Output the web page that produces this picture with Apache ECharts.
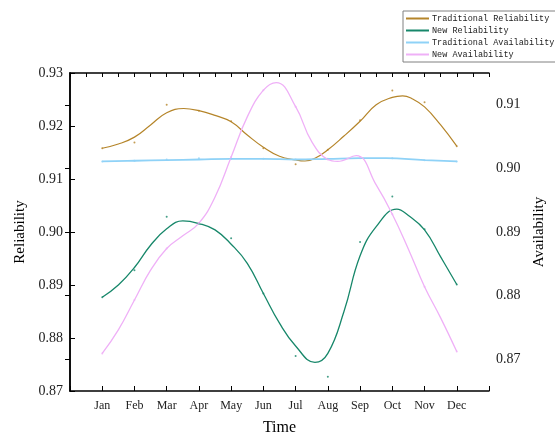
<!DOCTYPE html>
<html>
<head>
<meta charset="utf-8">
<script src="https://cdn.jsdelivr.net/npm/echarts@6/dist/echarts.min.js"></script>
<style>
  html, body { margin: 0; padding: 0; background: #fff; }
  #chart { width: 555px; height: 434px; }
</style>
</head>
<body>
<div id="chart"></div>
<script>
// month labels and positions (Jan = 1)
const months = ['Jan', 'Feb', 'Mar', 'Apr', 'May', 'Jun', 'Jul', 'Aug', 'Sep', 'Oct', 'Nov', 'Dec']
const monthPos = [1, 2, 3, 4, 5, 6, 7, 8, 9, 10, 11, 12]

// fitted curves at half months and at their turning points
const tradRelPos = [1, 1.5, 2, 2.5, 3, 3.53, 4, 4.5, 5, 5.5, 6, 6.5, 7, 7.29, 7.6, 8, 8.5, 9, 9.5, 10, 10.32, 10.6, 11, 11.5, 12]
const tradRelCurve = [0.9158, 0.9166, 0.9179, 0.9202, 0.9225, 0.9233, 0.9229, 0.9220, 0.9208, 0.9183, 0.9160, 0.9143,
  0.9136, 0.9134, 0.9139, 0.9155, 0.9181, 0.9209, 0.9240, 0.9254, 0.9257, 0.9252, 0.9236, 0.9202, 0.9162]

const newRelPos = [1, 1.5, 2, 2.5, 3, 3.5, 4, 4.5, 5, 5.5, 6, 6.5, 7, 7.6, 8, 8.5, 9, 9.5, 10.14, 10.5, 11, 11.5, 12]
const newRelCurve = [0.8877, 0.8900, 0.8933, 0.8975, 0.9006, 0.9021, 0.9016, 0.9004, 0.8977, 0.8941, 0.8884, 0.8828,
  0.8785, 0.8754, 0.8771, 0.8850, 0.8955, 0.9010, 0.9043, 0.9031, 0.9004, 0.8953, 0.8901]

const tradAvaPos = [1, 2, 3, 4, 5, 6, 7, 8, 9, 9.8, 11, 12]
const tradAvaCurve = [0.9011, 0.9012, 0.9013, 0.9014, 0.9015, 0.9015, 0.9014, 0.9015, 0.9016, 0.9016, 0.9013, 0.9011]

const newAvaPos = [1, 1.5, 2, 2.5, 3, 3.5, 4, 4.5, 5, 5.5, 6, 6.4, 7, 7.5, 8, 8.3, 8.88, 9.5, 10, 10.5, 11, 11.5, 12]
const newAvaCurve = [0.8709, 0.8746, 0.8793, 0.8840, 0.8874, 0.8894, 0.8914, 0.8955, 0.9018, 0.9081, 0.9123, 0.9135,
  0.9097, 0.9042, 0.9014, 0.9011, 0.9020, 0.8974, 0.8928, 0.8873, 0.8814, 0.8765, 0.8712]

// raw monthly points
const tradRelRaw = [0.9158, 0.9169, 0.9240, 0.9229, 0.9209, 0.9158, 0.9128, 0.9155, 0.9211, 0.9267, 0.9245, 0.9162]
const newRelRaw = [0.8877, 0.8928, 0.9029, 0.9016, 0.8988, 0.8884, 0.8766, 0.8727, 0.8981, 0.9067, 0.9005, 0.8901]
const tradAvaRaw = [0.9011, 0.9012, 0.9014, 0.9016, 0.9015, 0.9015, 0.9014, 0.9015, 0.9016, 0.9016, 0.9013, 0.9011]
const newAvaRaw = [0.8709, 0.8793, 0.8874, 0.8914, 0.9018, 0.9123, 0.9097, 0.9014, 0.9018, 0.8928, 0.8814, 0.8712]

const leftTicks = [0.87, 0.88, 0.89, 0.90, 0.91, 0.92, 0.93]
const rightTicks = [0.87, 0.88, 0.89, 0.90, 0.91]

const colors = {
  tradRel: '#b5852a',
  newRel: '#17876a',
  tradAva: '#8fd2f7',
  newAva: '#efb0f7',
}

const pair = (xs, ys) => xs.map((x, i) => [x, ys[i]])
const serif = 'Liberation Serif'

function curve(name, xs, ys, color, yIndex, width) {
  return {
    name, type: 'line', yAxisIndex: yIndex, smooth: 0.45, symbol: 'none',
    data: pair(xs, ys),
    lineStyle: { color, width },
    itemStyle: { color },
    z: 3,
  }
}

function dots(data, color, yIndex) {
  return {
    type: 'scatter', yAxisIndex: yIndex, symbolSize: 2,
    data: pair(monthPos, data),
    itemStyle: { color },
    silent: true,
    z: 4,
  }
}

const chart = echarts.init(document.getElementById('chart'))
chart.setOption({
  animation: false,
  backgroundColor: '#fff',
  grid: { left: 70, right: 66, top: 73, bottom: 43, outerBoundsMode: 'none', containLabel: false },
  legend: {
    data: ['Traditional Reliability', 'New Reliability', 'Traditional Availability', 'New Availability'],
    orient: 'vertical',
    left: 403,
    top: 11,
    padding: [3, 6, 3, 2],
    itemWidth: 23,
    itemHeight: 8,
    itemGap: 3,
    borderColor: '#808080',
    borderWidth: 1,
    itemStyle: { opacity: 0 },
    textStyle: { fontFamily: 'Liberation Mono', fontSize: 8.5, color: '#222', padding: [0, 0, 0, -2] },
  },
  xAxis: [
    {
      type: 'value', position: 'bottom', min: 0, max: 13, interval: 1,
      name: 'Time', nameLocation: 'middle', nameGap: 29,
      nameTextStyle: { fontFamily: serif, fontSize: 16, color: '#000' },
      axisLine: { lineStyle: { color: '#000', width: 1.5 } },
      axisTick: { inside: true, length: 5, lineStyle: { color: '#000' } },
      axisLabel: {
        fontFamily: serif, fontSize: 12, color: '#222', margin: 9,
        formatter: (v) => (v >= 1 && v <= 12 ? months[Math.round(v) - 1] : ''),
      },
      splitLine: { show: false },
    },
    {
      type: 'value', position: 'top', min: 0, max: 13, interval: 0.5,
      axisLine: { lineStyle: { color: '#000', width: 1.5 } },
      axisTick: { inside: true, length: 4, lineStyle: { color: '#000' } },
      axisLabel: { show: false },
      splitLine: { show: false },
    },
  ],
  yAxis: [
    {
      type: 'value', position: 'left', min: 0.87, max: 0.93, interval: 0.01,
      name: 'Reliability', nameLocation: 'middle', nameGap: 38, nameRotate: 90,
      nameTextStyle: { fontFamily: serif, fontSize: 15, color: '#000' },
      axisLine: { show: true, lineStyle: { color: '#000', width: 1.5 } },
      axisTick: { show: true, inside: true, length: 5, lineStyle: { color: '#000' } },
      axisLabel: {
        fontFamily: serif, fontSize: 14, color: '#222', margin: 7,
        customValues: leftTicks, formatter: (v) => v.toFixed(2),
      },
      splitLine: { show: false },
    },
    {
      type: 'value', position: 'right', min: 0.865, max: 0.915,
      name: 'Availability', nameLocation: 'middle', nameGap: 40, nameRotate: 90,
      nameTextStyle: { fontFamily: serif, fontSize: 15, color: '#000' },
      axisLine: { show: true, lineStyle: { color: '#000', width: 1.5 } },
      axisTick: { show: true, inside: true, length: 5, customValues: rightTicks, lineStyle: { color: '#000' } },
      axisLabel: {
        fontFamily: serif, fontSize: 14, color: '#222', margin: 7,
        customValues: rightTicks, formatter: (v) => v.toFixed(2),
      },
      splitLine: { show: false },
    },
  ],
  series: [
    curve('Traditional Reliability', tradRelPos, tradRelCurve, colors.tradRel, 0, 1.2),
    curve('New Reliability', newRelPos, newRelCurve, colors.newRel, 0, 1.3),
    curve('Traditional Availability', tradAvaPos, tradAvaCurve, colors.tradAva, 1, 1.8),
    curve('New Availability', newAvaPos, newAvaCurve, colors.newAva, 1, 1.3),
    dots(tradRelRaw, colors.tradRel, 0),
    dots(newRelRaw, colors.newRel, 0),
    dots(tradAvaRaw, colors.tradAva, 1),
    dots(newAvaRaw, colors.newAva, 1),
  ],
})
</script>
</body>
</html>
